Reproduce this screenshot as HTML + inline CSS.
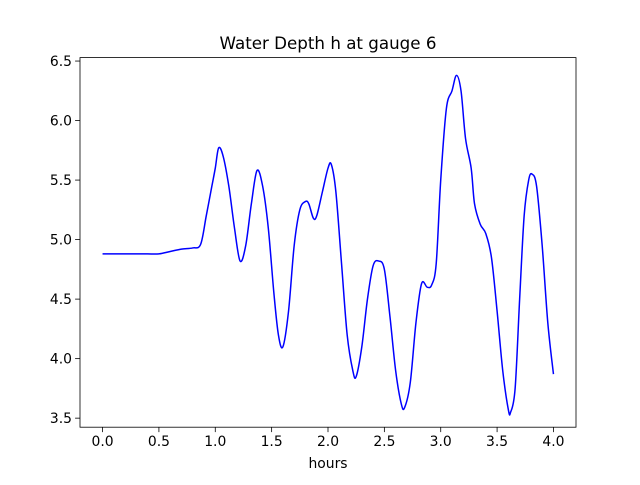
<!DOCTYPE html>
<html><head><meta charset="utf-8"><style>body{margin:0;background:#fff}svg text{font-family:"DejaVu Sans","Liberation Sans",sans-serif}</style></head>
<body>
<svg id="chart" width="640" height="480" xmlns="http://www.w3.org/2000/svg">
<rect width="640" height="480" fill="#fff"/>
<text x="328" y="49" font-size="16.7" text-anchor="middle">Water Depth h at gauge 6</text>
<g id="axes"></g>
<text x="328" y="468" font-size="13.9" text-anchor="middle">hours</text>
</svg>
<script>
const times=[0,0.1,0.2,0.3,0.4,0.5,0.6,0.7,0.8,0.87,0.92,0.97,1.0,1.03,1.07,1.12,1.17,1.22,1.27,1.32,1.37,1.42,1.47,1.52,1.56,1.6,1.65,1.7,1.75,1.8,1.83,1.87,1.9,1.95,2.0,2.03,2.07,2.12,2.17,2.22,2.25,2.3,2.35,2.4,2.45,2.5,2.55,2.6,2.65,2.68,2.73,2.78,2.83,2.88,2.92,2.96,3.0,3.05,3.1,3.14,3.18,3.22,3.27,3.3,3.35,3.4,3.45,3.5,3.55,3.6,3.62,3.66,3.7,3.74,3.78,3.81,3.85,3.9,3.95,4.0];
const depth=[4.88,4.88,4.88,4.88,4.88,4.88,4.9,4.92,4.93,4.96,5.2,5.45,5.6,5.77,5.7,5.45,5.1,4.82,4.95,5.3,5.58,5.45,5.1,4.55,4.2,4.1,4.4,4.95,5.25,5.32,5.3,5.18,5.2,5.4,5.6,5.63,5.4,4.8,4.2,3.9,3.85,4.1,4.5,4.78,4.82,4.75,4.35,3.9,3.62,3.59,3.8,4.3,4.63,4.6,4.62,4.8,5.5,6.1,6.25,6.38,6.25,5.85,5.6,5.3,5.13,5.05,4.85,4.4,3.9,3.57,3.55,3.75,4.5,5.2,5.5,5.55,5.45,4.95,4.3,3.87];
const xTicks=[0,0.5,1,1.5,2,2.5,3,3.5,4];
const xTickLabels=["0.0","0.5","1.0","1.5","2.0","2.5","3.0","3.5","4.0"];
const yTicks=[3.5,4,4.5,5,5.5,6,6.5];
const yTickLabels=["3.5","4.0","4.5","5.0","5.5","6.0","6.5"];
const L=80,R=576,T=57.6,B=427.2;
const x=v=>L+(v+0.2)/4.4*(R-L);
const y=v=>B-(v-3.424)/(6.529-3.424)*(B-T);
const NS="http://www.w3.org/2000/svg",g=document.getElementById('axes');
function mk(t,a){const e=document.createElementNS(NS,t);for(const k in a)e.setAttribute(k,a[k]);g.appendChild(e);return e;}
xTicks.forEach((t,i)=>{const tk=mk('line',{x1:x(t),x2:x(t),y1:B,y2:B+4.9,stroke:'#000','stroke-width':0.8});

const tx=mk('text',{x:x(t),y:B+19,'font-size':13.9,'text-anchor':'middle'});tx.textContent=xTickLabels[i];
});
yTicks.forEach((t,i)=>{const tk=mk('line',{x1:L-4.9,x2:L,y1:y(t),y2:y(t),stroke:'#000','stroke-width':0.8});

const tx=mk('text',{x:L-8,y:y(t)+5,'font-size':13.9,'text-anchor':'end'});tx.textContent=yTickLabels[i];
});
const P=times.map((t,i)=>[x(t),y(depth[i])]);
let d='M'+P[0][0]+','+P[0][1];
for(let i=0;i<P.length-1;i++){const p0=P[Math.max(0,i-1)],p1=P[i],p2=P[i+1],p3=P[Math.min(P.length-1,i+2)];
d+=' C'+(p1[0]+(p2[0]-p0[0])/6)+','+(p1[1]+(p2[1]-p0[1])/6)+' '+(p2[0]-(p3[0]-p1[0])/6)+','+(p2[1]-(p3[1]-p1[1])/6)+' '+p2[0]+','+p2[1];}
const ln=mk('path',{d:d,fill:'none',stroke:'#0000ff','stroke-width':1.5});

const fr=mk('rect',{x:L,y:T,width:R-L,height:B-T,fill:'none',stroke:'#000','stroke-width':0.8});

</script>
</body></html>
